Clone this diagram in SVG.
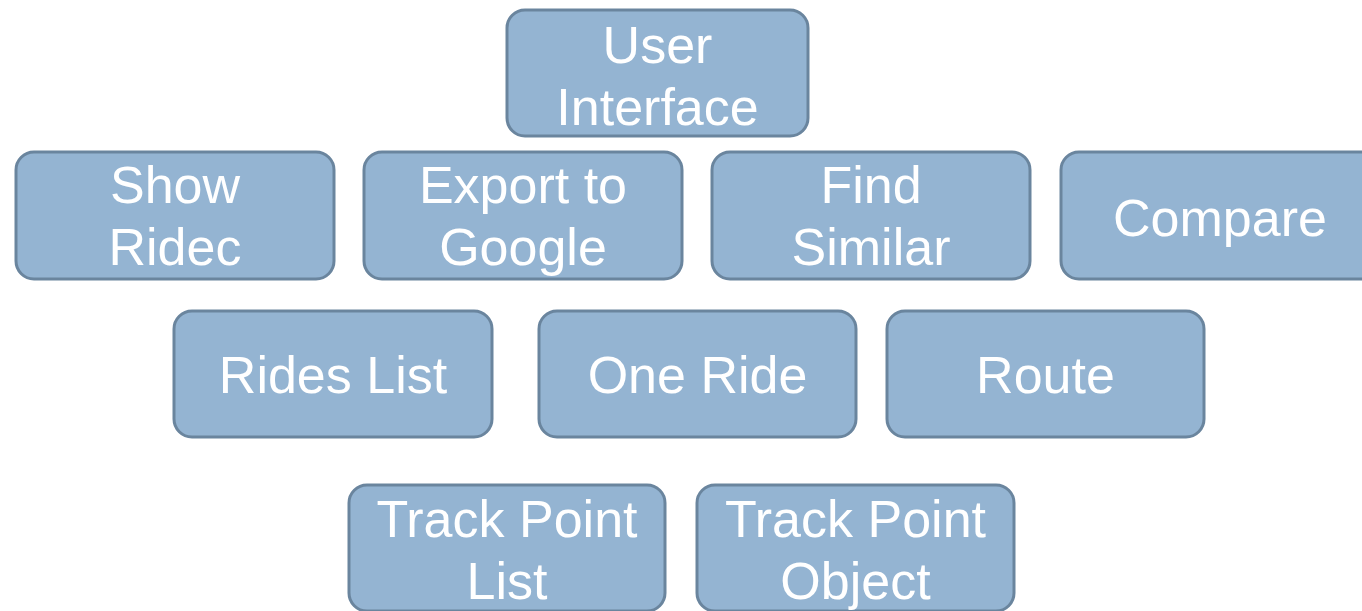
<svg xmlns="http://www.w3.org/2000/svg" width="1362" height="611" viewBox="0 0 1362 611">
  <style>
    .box { fill: #94B4D2; stroke: #6A859E; stroke-width: 3; }
    .lbl { fill: #FFFFFF; font-family: "Liberation Sans", Arial, sans-serif; font-size: 52px; text-anchor: middle; }
  </style>
  <rect width="1362" height="611" fill="#FFFFFF"/>
  <g id="connectors"></g>

  <g id="user-interface">
    <rect class="box" x="507" y="10" width="301" height="126" rx="18"/>
    <text class="lbl" x="657.5" y="63">User</text>
    <text class="lbl" x="657.5" y="125">Interface</text>
  </g>

  <g id="show-ridec">
    <rect class="box" x="16" y="152" width="318" height="127" rx="18"/>
    <text class="lbl" x="175" y="203">Show</text>
    <text class="lbl" x="175" y="265">Ridec</text>
  </g>

  <g id="export-to-google">
    <rect class="box" x="364" y="152" width="318" height="127" rx="18"/>
    <text class="lbl" x="523" y="203">Export to</text>
    <text class="lbl" x="523" y="265">Google</text>
  </g>

  <g id="find-similar">
    <rect class="box" x="712" y="152" width="318" height="127" rx="18"/>
    <text class="lbl" x="871" y="203">Find</text>
    <text class="lbl" x="871" y="265">Similar</text>
  </g>

  <g id="compare">
    <rect class="box" x="1061" y="152" width="318" height="127" rx="18"/>
    <text class="lbl" x="1220" y="236">Compare</text>
  </g>

  <g id="rides-list">
    <rect class="box" x="174" y="311" width="318" height="126" rx="18"/>
    <text class="lbl" x="333" y="393">Rides List</text>
  </g>

  <g id="one-ride">
    <rect class="box" x="539" y="311" width="317" height="126" rx="18"/>
    <text class="lbl" x="697.5" y="393">One Ride</text>
  </g>

  <g id="route">
    <rect class="box" x="887" y="311" width="317" height="126" rx="18"/>
    <text class="lbl" x="1045.5" y="393">Route</text>
  </g>

  <g id="track-point-list">
    <rect class="box" x="349" y="485" width="316" height="126" rx="18"/>
    <text class="lbl" x="507" y="537">Track Point</text>
    <text class="lbl" x="507" y="599">List</text>
  </g>

  <g id="track-point-object">
    <rect class="box" x="697" y="485" width="317" height="126" rx="18"/>
    <text class="lbl" x="855.5" y="537">Track Point</text>
    <text class="lbl" x="855.5" y="599">Object</text>
  </g>
</svg>
